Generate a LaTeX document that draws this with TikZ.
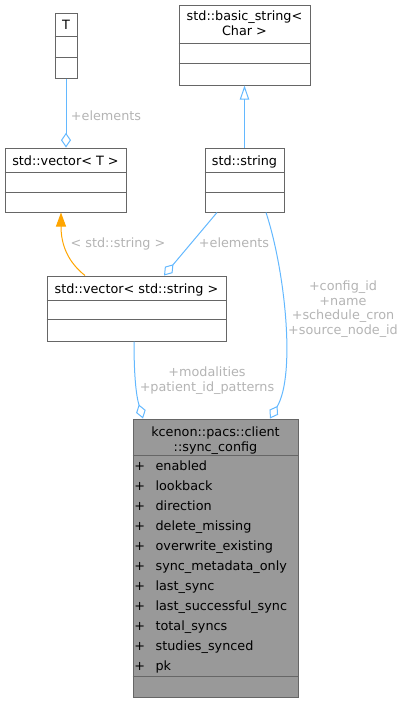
\documentclass[tikz,border=0pt]{standalone}
\usepackage{fontspec}
\setmainfont{DejaVu Sans}
\usetikzlibrary{arrows.meta, fit}
\definecolor{edgeblue}{HTML}{63B8FF}
\definecolor{boxgray}{HTML}{666666}
\definecolor{labelgray}{HTML}{B4B4B4}
\definecolor{cfgfill}{HTML}{999999}
\definecolor{tplorange}{HTML}{FFA500}

\begin{document}
\begin{tikzpicture}[x=0.75pt, y=-0.75pt,
    every node/.style={font=\fontsize{9.6}{11}\selectfont, inner sep=0pt},
    classbox/.style={draw=boxgray, line width=0.75pt, fill=white, inner sep=0pt},
    member/.style={anchor=base west},
    title/.style={anchor=base, align=center},
    edgelabel/.style={text=labelgray, align=center},
    uses/.style={draw=edgeblue, line width=0.75pt, -{Diamond[open, length=11pt, width=7.5pt]}},
    inherit/.style={draw=edgeblue, line width=0.75pt, -{Triangle[open, length=10.5pt, width=7pt]}},
    tmpl/.style={draw=tplorange, line width=0.75pt, -{Triangle[length=10.5pt, width=7.5pt]}}]
    \useasboundingbox (0,0) rectangle (405,704);
    % Class boxes
    \node[classbox, fit={(55,13) (77,78)}] (tplT) {};
    \node[classbox, fit={(179,5) (310,85)}] (basicStr) {};
    \node[classbox, fit={(5,148) (126,212)}] (vecT) {};
    \node[classbox, fit={(205,148) (284,212)}] (stdStr) {};
    \node[classbox, fit={(47,276) (226,341)}] (vecStr) {};
    \node[classbox, fill=cfgfill, fit={(133,419) (298,697)}] (syncCfg) {};
    % Compartment lines
    \foreach \n/\ya/\yb in {tplT/36/57, basicStr/43/63, vecT/172/192, stdStr/172/192, vecStr/300/319, syncCfg/455/676}
    {
        \draw[boxgray, line width=0.75pt] (\n.west |- 0,\ya) -- (\n.east |- 0,\ya);
        \draw[boxgray, line width=0.75pt] (\n.west |- 0,\yb) -- (\n.east |- 0,\yb);
    }
    % Titles
    \node[title] (tplTName) at (66,29.5) {T};
    \node[title, anchor=north, font=\fontsize{9.6}{11.25}\selectfont] (basicStrName) at (244.5,11) {std::basic\_string<\\Char >};
    \node[title] (vecTName) at (65.5,165) {std::vector< T >};
    \node[title] (stdStrName) at (244.5,165) {std::string};
    \node[title] (vecStrName) at (136.5,293) {std::vector< std::string >};
    \node[title, anchor=north, font=\fontsize{9.6}{11.25}\selectfont] (syncCfgName) at (215.5,427) {kcenon::pacs::client\\::sync\_config};
    % Members
    \foreach \m [count=\i from 0] in {enabled, lookback, direction, delete\_missing, overwrite\_existing, sync\_metadata\_only, last\_sync, last\_successful\_sync, total\_syncs, studies\_synced, pk}
    {
        \node[member] (mem\i) at (134,470+20*\i) {\makebox[16pt][l]{+}\m};
    }
    % Connectors
    \draw[uses] (tplT.south) -- (tplT.south |- vecT.north);
    \draw[inherit] (stdStr.north) -- (stdStr.north |- basicStr.south);
    \draw[tmpl] (85,0 |- vecStr.north) .. controls (68,262) and (61,245) .. (61,0 |- vecT.south);
    \draw[uses] (217,0 |- stdStr.south) -- (164,0 |- vecStr.north);
    \draw[uses] (266,0 |- stdStr.south) .. controls (285,270) and (296,375) .. (270,0 |- syncCfg.north);
    \draw[uses] (134,0 |- vecStr.south) .. controls (134,375) and (136,395) .. (143,0 |- syncCfg.north);
    % Edge labels
    \node[edgelabel, anchor=base] (lblElemT) at (106,120) {+elements};
    \node[edgelabel, anchor=base] (lblTmpl) at (118,247) {< std::string >};
    \node[edgelabel, anchor=base] (lblElemStr) at (234,247) {+elements};
    \node[edgelabel, anchor=north] (lblStrs) at (343,280.5) {+config\_id\\+name\\+schedule\_cron\\+source\_node\_id};
    \node[edgelabel, anchor=north] (lblVecs) at (207,367) {+modalities\\+patient\_id\_patterns};
\end{tikzpicture}
\end{document}
